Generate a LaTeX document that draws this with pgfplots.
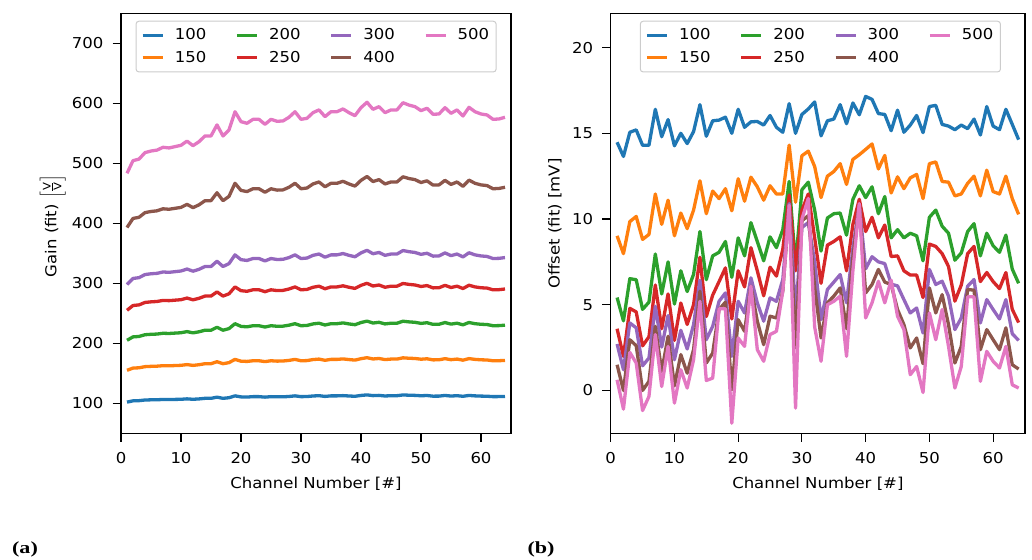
\documentclass[border=0pt]{standalone}
\usepackage{fontspec}
\usepackage{amsmath}
\usepackage{pgfplots}
\usepackage{pgfplotstable}
\pgfplotsset{compat=1.18}
\setmainfont{DejaVu Sans}[FakeStretch=1.1]
\newfontfamily\capfont{Liberation Serif}[FakeStretch=1.3]
\definecolor{c100}{HTML}{1F77B4}
\definecolor{c150}{HTML}{FF7F0E}
\definecolor{c200}{HTML}{2CA02C}
\definecolor{c250}{HTML}{D62728}
\definecolor{c300}{HTML}{9467BD}
\definecolor{c400}{HTML}{8C564B}
\definecolor{c500}{HTML}{E377C2}

\pgfplotstableread{
ch s100 s150 s200 s250 s300 s400 s500
1 102.0 155.0 205.0 255.0 298.0 393.0 483.3
2 104.1 158.7 210.7 263.0 308.1 408.1 504.4
3 104.4 159.2 211.4 264.0 309.4 410.0 507.0
4 105.5 161.1 214.3 268.1 314.6 417.8 517.8
5 105.8 161.6 215.0 269.1 315.9 419.7 520.5
6 105.9 161.9 215.4 269.7 316.6 420.8 522.0
7 106.4 162.7 216.7 271.5 318.9 424.2 526.7
8 106.3 162.5 216.4 271.1 318.3 423.4 525.6
9 106.5 162.9 217.0 271.9 319.4 425.0 527.8
10 106.7 163.3 217.6 272.7 320.5 426.5 530.0
11 107.4 164.5 219.5 275.4 323.8 431.6 537.0
12 106.7 163.2 217.4 272.5 320.2 426.1 529.4
13 107.3 164.3 219.2 275.0 323.3 430.8 536.0
14 108.3 166.0 221.8 278.7 328.0 437.7 545.6
15 108.3 166.0 221.8 278.7 328.0 437.7 545.6
16 110.2 169.3 226.8 285.7 336.8 450.9 564.0
17 108.3 166.0 221.8 278.7 328.0 437.7 545.6
18 109.3 167.8 224.5 282.5 332.8 444.9 555.6
19 112.4 173.2 232.7 294.0 347.4 466.7 586.0
20 110.7 170.2 228.2 287.7 339.4 454.8 569.4
21 110.4 169.8 227.5 286.7 338.1 452.9 566.7
22 111.1 170.9 229.3 289.2 341.3 457.6 573.3
23 111.1 170.9 229.3 289.2 341.3 457.6 573.3
24 110.3 169.5 227.1 286.0 337.3 451.7 565.0
25 111.1 170.9 229.3 289.2 341.3 457.6 573.3
26 110.8 170.3 228.4 287.9 339.7 455.3 570.0
27 110.8 170.5 228.6 288.2 340.0 455.7 570.6
28 111.4 171.5 230.2 290.5 342.9 460.1 576.7
29 112.4 173.2 232.7 294.0 347.4 466.7 586.0
30 111.1 170.9 229.3 289.2 341.3 457.6 573.3
31 111.3 171.2 229.8 289.8 342.1 458.8 575.0
32 112.2 172.9 232.3 293.4 346.6 465.6 584.4
33 112.7 173.7 233.5 295.2 348.8 468.9 589.0
34 111.5 171.7 230.5 290.9 343.5 460.9 577.8
35 112.4 173.2 232.7 294.0 347.4 466.7 586.0
36 112.4 173.2 232.7 294.0 347.4 466.7 586.0
37 112.8 174.0 234.0 295.8 349.6 470.0 590.6
38 112.2 172.9 232.3 293.4 346.6 465.6 584.4
39 111.7 172.0 231.0 291.5 344.2 462.0 579.4
40 113.1 174.4 234.6 296.6 350.7 471.6 592.8
41 114.0 176.0 237.0 300.0 355.0 478.0 601.7
42 112.8 173.9 233.8 295.5 349.3 469.6 590.0
43 113.2 174.7 235.0 297.2 351.4 472.8 594.4
44 112.2 172.9 232.3 293.4 346.6 465.6 584.4
45 112.7 173.7 233.5 295.2 348.8 468.9 589.0
46 112.7 173.7 233.5 295.2 348.8 468.9 589.0
47 113.9 175.8 236.8 299.7 354.6 477.5 601.0
48 113.5 175.1 235.7 298.2 352.7 474.6 597.0
49 113.2 174.7 235.0 297.2 351.4 472.8 594.4
50 112.6 173.5 233.2 294.7 348.3 468.0 587.8
51 113.0 174.2 234.3 296.2 350.1 470.8 591.7
52 111.9 172.4 231.6 292.4 345.3 463.7 581.7
53 112.0 172.5 231.7 292.6 345.6 464.0 582.2
54 113.1 174.4 234.6 296.6 350.7 471.6 592.8
55 112.1 172.7 232.0 293.0 346.1 464.8 583.3
56 112.7 173.7 233.5 295.2 348.8 468.9 589.0
57 111.7 171.9 230.8 291.3 344.0 461.6 578.9
58 113.1 174.5 234.7 296.8 350.9 472.0 593.3
59 112.4 173.2 232.7 294.0 347.4 466.7 586.0
60 112.0 172.5 231.7 292.6 345.6 464.0 582.2
61 111.8 172.2 231.3 292.0 344.8 462.9 580.6
62 111.1 170.9 229.3 289.2 341.3 457.6 573.3
63 111.2 171.0 229.5 289.4 341.6 458.1 573.9
64 111.4 171.5 230.2 290.5 342.9 460.1 576.7
}\gaintable

\pgfplotstableread{
ch s100 s150 s200 s250 s300 s400 s500
1 14.48 9.02 5.42 3.60 2.71 1.50 0.62
2 13.65 7.98 4.06 1.98 1.21 0.00 -1.09
3 15.06 9.85 6.52 4.79 3.94 2.96 2.22
4 15.20 10.15 6.46 4.58 3.65 2.61 1.60
5 14.30 8.81 4.73 2.60 1.44 0.00 -1.17
6 14.30 9.10 5.15 3.13 1.89 0.53 -0.35
7 16.40 11.46 7.96 6.15 4.91 3.74 3.26
8 14.80 9.69 5.63 3.60 2.53 1.11 0.23
9 15.80 11.10 7.50 5.63 4.37 3.16 2.57
10 14.27 9.02 5.04 2.92 1.79 0.27 -0.74
11 15.00 10.35 6.98 5.10 3.51 2.09 1.21
12 14.40 9.44 5.77 3.85 2.42 1.01 0.14
13 15.10 10.52 6.77 5.00 3.84 2.38 1.79
14 16.67 12.23 9.27 7.77 6.43 5.79 5.20
15 14.83 10.31 6.46 4.31 2.96 1.60 0.58
16 15.73 11.63 7.85 5.56 3.74 2.18 0.72
17 15.77 11.19 8.06 6.35 5.20 4.72 4.76
18 15.94 11.77 8.69 7.15 5.69 5.15 4.76
19 15.00 10.48 6.60 4.17 1.99 0.04 -1.91
20 16.40 12.35 8.90 6.98 5.20 4.13 3.06
21 15.35 11.04 7.85 6.04 4.52 3.45 2.57
22 15.67 12.44 9.79 8.33 6.57 6.08 6.08
23 15.69 11.88 8.69 6.98 5.11 4.04 2.38
24 15.48 11.10 7.56 5.52 4.04 2.67 1.70
25 16.04 11.94 8.96 7.19 5.40 4.33 3.26
26 15.35 11.46 8.33 6.67 5.20 4.23 3.45
27 15.06 11.46 9.38 8.23 6.47 5.79 5.80
28 16.73 14.31 12.19 11.40 10.90 10.70 10.80
29 15.00 10.98 7.29 6.98 4.50 2.50 -1.03
30 16.10 13.69 11.71 10.52 9.50 9.90 10.00
31 16.42 13.96 12.15 11.46 9.80 10.20 11.20
32 16.83 13.06 10.52 8.90 7.50 6.00 3.70
33 14.85 11.25 8.13 6.25 4.13 3.06 1.70
34 15.73 12.50 10.06 8.48 5.89 5.11 5.00
35 15.83 12.77 10.31 8.69 6.32 5.50 5.20
36 16.67 13.23 10.35 8.96 6.76 5.98 5.50
37 15.56 12.02 9.06 6.98 5.11 3.60 1.99
38 16.77 13.48 11.15 9.69 8.30 7.80 7.00
39 16.08 13.75 11.94 11.15 10.80 10.70 10.90
40 17.15 14.06 11.25 9.27 7.10 5.69 4.23
41 16.98 14.38 11.88 10.10 7.80 6.18 5.11
42 16.15 12.92 10.31 8.90 7.50 7.06 6.37
43 16.10 13.71 11.31 9.65 7.40 6.32 5.11
44 15.15 11.52 8.90 7.81 6.20 6.18 6.43
45 16.35 12.46 9.38 7.85 6.10 4.72 4.33
46 15.06 11.77 8.90 6.98 5.30 3.84 3.55
47 15.48 12.40 9.17 6.73 4.52 2.48 0.92
48 16.04 12.60 9.02 6.73 4.81 3.06 1.40
49 15.04 11.19 7.56 5.42 3.35 1.56 -0.12
50 16.56 13.23 10.10 8.54 7.06 5.98 4.52
51 16.63 13.33 10.52 8.40 6.18 4.52 2.96
52 15.52 12.19 9.58 7.98 6.37 5.59 4.72
53 15.42 12.15 9.17 7.23 5.50 3.84 2.57
54 15.21 11.35 7.60 5.21 3.55 1.60 0.14
55 15.48 11.46 8.02 6.15 4.23 2.57 1.40
56 15.27 12.08 9.27 7.98 6.08 5.89 5.46
57 15.83 12.50 9.73 8.40 6.47 5.85 5.46
58 14.90 11.35 7.85 6.35 3.94 2.38 0.53
59 16.56 12.85 9.17 6.88 5.30 3.55 2.28
60 15.42 11.60 8.44 6.35 4.72 2.96 1.70
61 15.21 11.46 8.06 5.94 4.17 2.38 1.31
62 16.40 12.50 9.06 6.88 5.30 3.65 2.57
63 15.52 11.19 7.08 4.73 3.31 1.50 0.33
64 14.63 10.27 6.25 3.96 2.92 1.25 0.14
}\offsettable

\pgfplotsset{
  mystyle/.style={
    scale only axis,
    height=420pt,
    xmin=0, xmax=65,
    xtick={0,10,20,30,40,50,60},
    tick align=outside,
    tick pos=left,
    major tick length=8.5pt,
    every tick/.style={black, line width=1.1pt},
    axis line style={line width=1.3pt},
    /pgf/number format/assume math mode=true,
    xticklabel style={yshift=-5pt},
    yticklabel style={xshift=-4pt},
    xlabel={Channel Number [\#]},
    x label style={at={(axis description cs:0.5,-0.121)}, anchor=center},
    legend columns=4,
    legend cell align=left,
    legend image code/.code={\draw[##1, line cap=butt] (0pt,0pt) -- (20pt,0pt);},
    legend style={draw=black!20, line width=1pt, rounded corners=3pt, fill=white,
      anchor=north west, inner xsep=5pt, inner ysep=5.5pt, row sep=5pt,
      /tikz/every odd column/.append style={column sep=8.5pt},
      /tikz/every even column/.append style={column sep=27pt}},
    every axis plot/.append style={line width=3.3pt, line join=round},
  }
}

\begin{document}
\fontsize{15}{18}\selectfont
\begin{tikzpicture}[x=1pt,y=1pt]
\useasboundingbox (0,0) rectangle (1032,-559);

\begin{axis}[mystyle,
  at={(121pt,-433.3pt)}, anchor=south west, width=390pt,
  ymin=50, ymax=750, ytick={100,200,300,400,500,600,700},
  ylabel={Gain (fit) $\left[\frac{\text{V}}{\text{V}}\right]$},
  y label style={at={(axis description cs:-0.175,0.4936)}, anchor=center, rotate=0},
  legend style={at={(axis description cs:0.0372,0.9824)}},
]
\addplot[c100, forget plot] table[x=ch, y=s100] {\gaintable};
\addplot[c150, forget plot] table[x=ch, y=s150] {\gaintable};
\addplot[c200, forget plot] table[x=ch, y=s200] {\gaintable};
\addplot[c250, forget plot] table[x=ch, y=s250] {\gaintable};
\addplot[c300, forget plot] table[x=ch, y=s300] {\gaintable};
\addplot[c400, forget plot] table[x=ch, y=s400] {\gaintable};
\addplot[c500, forget plot] table[x=ch, y=s500] {\gaintable};
\addlegendimage{c100, line width=3.3pt}\addlegendentry{100}
\addlegendimage{c200, line width=3.3pt}\addlegendentry{200}
\addlegendimage{c300, line width=3.3pt}\addlegendentry{300}
\addlegendimage{c500, line width=3.3pt}\addlegendentry{500}
\addlegendimage{c150, line width=3.3pt}\addlegendentry{150}
\addlegendimage{c250, line width=3.3pt}\addlegendentry{250}
\addlegendimage{c400, line width=3.3pt}\addlegendentry{400}
\end{axis}

\begin{axis}[mystyle,
  at={(610.7pt,-433.3pt)}, anchor=south west, width=414.3pt,
  ymin=-2.5, ymax=22, ytick={0,5,10,15,20},
  ylabel={Offset (fit) [mV]},
  y label style={at={(axis description cs:-0.1344,0.4995)}, anchor=center, rotate=0},
  legend style={at={(axis description cs:0.0702,0.9824)}},
]
\addplot[c100, forget plot] table[x=ch, y=s100] {\offsettable};
\addplot[c150, forget plot] table[x=ch, y=s150] {\offsettable};
\addplot[c200, forget plot] table[x=ch, y=s200] {\offsettable};
\addplot[c250, forget plot] table[x=ch, y=s250] {\offsettable};
\addplot[c300, forget plot] table[x=ch, y=s300] {\offsettable};
\addplot[c400, forget plot] table[x=ch, y=s400] {\offsettable};
\addplot[c500, forget plot] table[x=ch, y=s500] {\offsettable};
\addlegendimage{c100, line width=3.3pt}\addlegendentry{100}
\addlegendimage{c200, line width=3.3pt}\addlegendentry{200}
\addlegendimage{c300, line width=3.3pt}\addlegendentry{300}
\addlegendimage{c500, line width=3.3pt}\addlegendentry{500}
\addlegendimage{c150, line width=3.3pt}\addlegendentry{150}
\addlegendimage{c250, line width=3.3pt}\addlegendentry{250}
\addlegendimage{c400, line width=3.3pt}\addlegendentry{400}
\end{axis}

\node[font=\capfont\bfseries\fontsize{17}{20}\selectfont, anchor=center] at (25,-549) {(a)};
\node[font=\capfont\bfseries\fontsize{17}{20}\selectfont, anchor=center] at (541,-549) {(b)};
\end{tikzpicture}
\end{document}
